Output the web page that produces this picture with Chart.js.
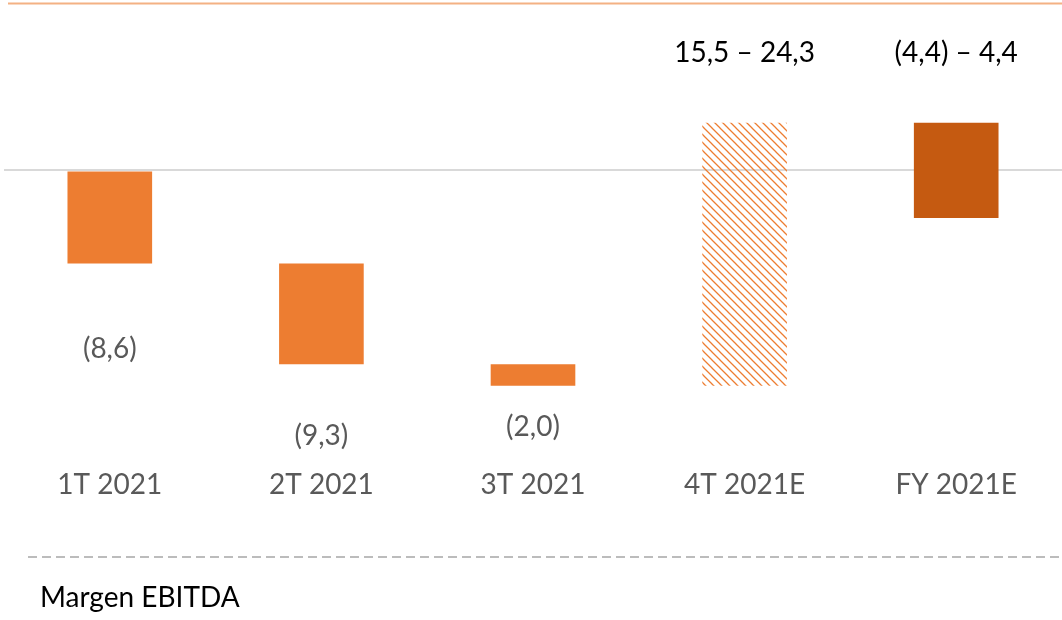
<!DOCTYPE html>
<html>
<head>
<meta charset="utf-8">
<script src="https://cdn.jsdelivr.net/npm/chart.js@4/dist/chart.umd.min.js"></script>
<style>
  html, body { margin: 0; padding: 0; background: #fff; }
  #wrap { width: 1062px; height: 620px; }
</style>
</head>
<body>
<div id="wrap"><canvas id="ebitda" width="1062" height="620"></canvas></div>
<script>
const categories = ['1T 2021', '2T 2021', '3T 2021', '4T 2021E', 'FY 2021E'];
const barLow = [-8.6, -17.9, -19.9, -19.9, -4.4];
const barHigh = [0, -8.6, -17.9, 4.4, 4.4];
const valueLabels = ['(8,6)', '(9,3)', '(2,0)', '15,5 – 24,3', '(4,4) – 4,4'];
const footLabel = 'Margen EBITDA';

const FONT = 'Lato, "Open Sans", sans-serif';

function hatch(color) {
  const c = document.createElement('canvas');
  c.width = 8;
  c.height = 8;
  const g = c.getContext('2d');
  g.strokeStyle = color;
  g.lineWidth = 1.3;
  g.beginPath();
  g.moveTo(-1, -1); g.lineTo(9, 9);
  g.moveTo(-1, 7); g.lineTo(1, 9);
  g.moveTo(7, -1); g.lineTo(9, 1);
  g.stroke();
  return g.createPattern(c, 'repeat');
}

const ctx = document.getElementById('ebitda').getContext('2d');

const fills = ['#ED7D31', '#ED7D31', '#ED7D31', hatch('#ED7D31'), '#C55A11'];

// labels: below the bar for losses, above for the estimates
const labelOffset = [85, 72, 41, -70, -70];

const decor = {
  id: 'decor',
  afterDraw(chart) {
    const c = chart.ctx;
    const y = chart.scales.y;
    const meta = chart.getDatasetMeta(0);
    c.save();
    c.textAlign = 'center';
    c.textBaseline = 'middle';
    meta.data.forEach((bar, i) => {
      const up = labelOffset[i] < 0;
      const edge = up ? y.getPixelForValue(barHigh[i]) : y.getPixelForValue(barLow[i]);
      c.fillStyle = up ? '#000000' : '#595959';
      c.font = '28px ' + FONT;
      c.fillText(valueLabels[i], bar.x, edge + labelOffset[i]);
    });

    // top rule
    c.strokeStyle = '#F4B183';
    c.lineWidth = 2;
    c.beginPath();
    c.moveTo(8, 3.5);
    c.lineTo(1062, 3.5);
    c.stroke();

    // dashed separator
    c.strokeStyle = '#A6A6A6';
    c.lineWidth = 1.5;
    c.setLineDash([9, 5]);
    c.beginPath();
    c.moveTo(28, 557);
    c.lineTo(1062, 557);
    c.stroke();
    c.setLineDash([]);

    c.textAlign = 'left';
    c.fillStyle = '#000000';
    c.font = '28px ' + FONT;
    c.fillText(footLabel, 40, 598);
    c.restore();
  }
};

window.ebitdaChart = new Chart(ctx, {
  type: 'bar',
  data: {
    labels: categories,
    datasets: [{
      label: 'EBITDA',
      data: barLow.map((v, i) => [v, barHigh[i]]),
      backgroundColor: fills,
      borderWidth: 0,
      barPercentage: 0.4,
      categoryPercentage: 1.0
    }]
  },
  options: {
    responsive: false,
    animation: false,
    layout: {
      padding: { left: 4, right: 0, top: 20, bottom: 108 }
    },
    plugins: {
      legend: { display: false },
      tooltip: { enabled: false }
    },
    scales: {
      x: {
        grid: { display: false, drawTicks: false },
        border: { display: false },
        ticks: {
          color: '#595959',
          font: { family: FONT, size: 28 },
          padding: 10
        }
      },
      y: {
        min: -26.6,
        max: 13.9,
        z: 1,
        grid: {
          drawTicks: false,
          lineWidth: 2,
          color: (c) => (c.tick && c.tick.value === 0 ? '#D9D9D9' : 'rgba(0,0,0,0)')
        },
        border: { display: false },
        ticks: { display: false, stepSize: 1 }
      }
    }
  },
  plugins: [decor]
});
</script>
</body>
</html>
